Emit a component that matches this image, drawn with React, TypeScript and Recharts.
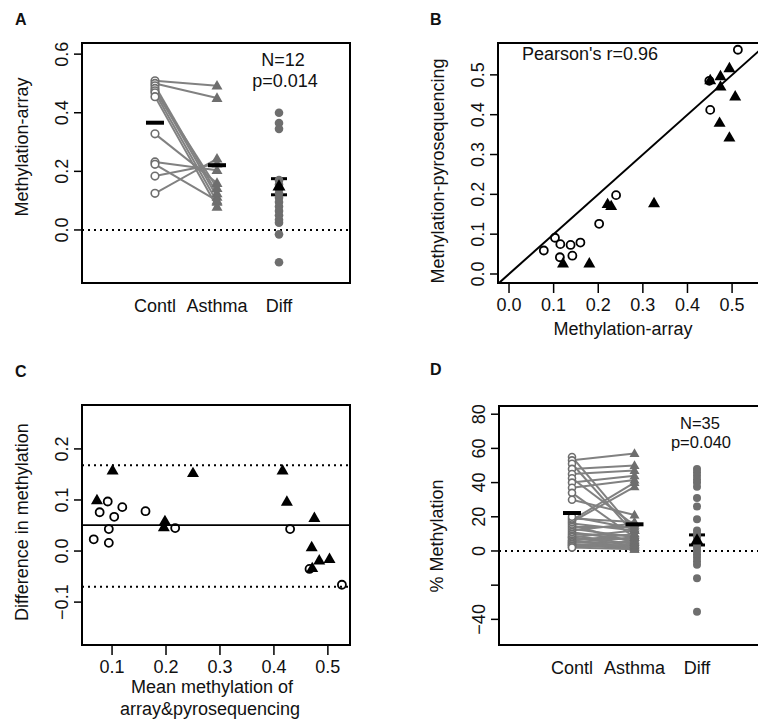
import React from 'react';
import { ScatterChart, Scatter, XAxis, YAxis, ReferenceLine, ReferenceArea, ErrorBar } from 'recharts';

const FONT = '"Liberation Sans", Arial, Helvetica, sans-serif';
const GRAY = '#6e6e6e';
const LGRAY = '#818181';
const INK = '#111';

const groupNames = ['Contl', 'Asthma', 'Diff'];

// A: methylation-array, 12 paired samples
const aContl = [0.509, 0.5, 0.492, 0.483, 0.475, 0.468, 0.455, 0.328, 0.232, 0.224, 0.184, 0.125];
const aAsthma = [0.492, 0.45, 0.125, 0.113, 0.143, 0.096, 0.079, 0.16, 0.204, 0.1, 0.226, 0.243];
const aDiff = [0.4, 0.365, 0.345, 0.17, 0.155, 0.14, 0.125, 0.11, 0.095, 0.08, 0.065, 0.05, 0.035, 0.025, -0.015, -0.11];
const aGroupMeans = [0.366, 0.221];
const aDiffMean = 0.15;
const aDiffCI = [0.12, 0.175];
const aTicks = [0, 0.2, 0.4, 0.6];

// B: array vs pyrosequencing
const bCircArray = [0.078, 0.103, 0.115, 0.114, 0.138, 0.142, 0.16, 0.202, 0.24, 0.451, 0.449, 0.513];
const bCircPyro = [0.059, 0.091, 0.075, 0.042, 0.073, 0.046, 0.079, 0.126, 0.198, 0.412, 0.485, 0.563];
const bTriArray = [0.121, 0.18, 0.221, 0.229, 0.325, 0.451, 0.474, 0.494, 0.474, 0.507, 0.472, 0.494];
const bTriPyro = [0.027, 0.027, 0.176, 0.171, 0.178, 0.487, 0.497, 0.517, 0.471, 0.446, 0.38, 0.343];
const bTicks = [0, 0.1, 0.2, 0.3, 0.4, 0.5];

// C: Bland-Altman
const cCircMean = [0.066, 0.077, 0.092, 0.094, 0.094, 0.104, 0.119, 0.162, 0.217, 0.43, 0.526, 0.466];
const cCircDiff = [0.023, 0.076, 0.097, 0.043, 0.016, 0.067, 0.086, 0.078, 0.045, 0.043, -0.066, -0.035];
const cTriMean = [0.072, 0.101, 0.198, 0.196, 0.25, 0.416, 0.424, 0.475, 0.47, 0.471, 0.484, 0.503];
const cTriDiff = [0.1, 0.158, 0.059, 0.047, 0.153, 0.158, 0.097, 0.065, 0.008, -0.033, -0.018, -0.015];
const cBias = 0.0507;
const cLimits = [0.168, -0.0697];
const cXTicks = [0.1, 0.2, 0.3, 0.4, 0.5];
const cYTicks = [-0.1, 0, 0.1, 0.2];

// D: % methylation, 35 paired samples
const dContl = [55, 53, 51, 48, 45, 42.5, 40, 37, 34, 30, 18, 17, 16, 15, 14, 13, 12, 11, 10, 9, 8, 8, 7, 6, 6, 5, 5, 4, 4, 3, 3, 2, 2, 19, 20];
const dAsthma = [12, 57, 10, 50, 47, 15, 44, 41.5, 8, 21, 40, 37.5, 12, 5, 14, 8, 16, 6, 9, 4, 12, 3, 7, 10, 2, 5, 8, 3, 1, 6, 2, 4, 1, 17, 13];
const dDiff = [48, 46, 44, 42, 40, 37.5, 31, 26, 18.5, 12, 10, 8, 6, 4, 2, 0, -2, -4, -6, -8, -16, -35.5];
const dGroupMeans = [22.2, 15.6];
const dDiffMean = 6.4;
const dDiffCI = [3.5, 9.4];
const dTicks = [-40, -20, 0, 20, 40, 60, 80];

const fmtNum = (v: number, d: number) => (v < 0 ? '\u2212' : '') + Math.abs(v).toFixed(d);

const circle = (r: number, stroke: string, fill: string, sw = 1.6) => (p: any) =>
  <circle cx={p.cx} cy={p.cy} r={r} fill={fill} stroke={stroke} strokeWidth={sw} />;
const tri = (w: number, fill: string) => (p: any) => {
  const h = w * 0.87;
  return <path d={`M${p.cx},${p.cy - h * 0.6}L${p.cx + w / 2},${p.cy + h * 0.4}L${p.cx - w / 2},${p.cy + h * 0.4}Z`} fill={fill} />;
};
const bar = (w: number, h: number) => (p: any) =>
  <rect x={p.cx - w / 2} y={p.cy - h / 2} width={w} height={h} fill="#000" />;
const none = () => <g />;

const yTick = (fmt: (v: number) => string) => (p: any) => {
  const txt = fmt(p.payload.value);
  const cx = p.x - 10;
  return (
    <text x={cx} y={p.y} dy="0.35em" transform={`rotate(-90 ${cx} ${p.y})`} textAnchor="middle"
      fontSize={18} fontFamily={FONT} fill={INK}>{txt}</text>
  );
};
const xNumTick = (p: any) => (
  <text x={p.x} y={p.y + 16} textAnchor="middle" fontSize={18} fontFamily={FONT} fill={INK}>
    {p.payload.value.toFixed(1)}
  </text>
);
const catTick = (p: any) => (
  <text x={p.x} y={p.y + 29} textAnchor="middle" fontSize={18} fontFamily={FONT} fill={INK}>
    {groupNames[p.payload.value - 1]}
  </text>
);

const tickLineStyle = { stroke: '#000', strokeWidth: 1.5 };

function PairedPanel(props: {
  contl: number[]; asthma: number[]; diff: number[]; means: number[]; diffMean: number; diffCI: number[];
  xDomain: number[]; yDomain: number[]; yTicks: number[]; fmt: (v: number) => string;
  width: number; height: number; top: number; right: number; yAxisWidth: number; xAxisHeight: number;
  r: number; triW: number;
}) {
  const { contl, asthma, diff, means, diffMean, diffCI, xDomain, yDomain } = props;
  const pairs = contl.map((c, i) => [{ x: 1, y: c }, { x: 2, y: asthma[i] }]);
  const contlPts = contl.map((y) => ({ x: 1, y }));
  const asthmaPts = asthma.map((y) => ({ x: 2, y }));
  const diffPts = diff.map((y) => ({ x: 3, y }));
  const meanPts = means.map((y, i) => ({ x: i + 1, y }));
  const diffMeanPts = [{ x: 3, y: diffMean, err: [diffMean - diffCI[0], diffCI[1] - diffMean] }];
  return (
    <ScatterChart width={props.width} height={props.height}
      margin={{ top: props.top, right: props.right, bottom: 0, left: 0 }}>
      <XAxis type="number" dataKey="x" domain={xDomain} ticks={[1, 2, 3]} interval={0} allowDataOverflow
        tickLine={false} axisLine={false} tickSize={0} tickMargin={0} height={props.xAxisHeight} tick={catTick} />
      <YAxis type="number" dataKey="y" domain={yDomain} ticks={props.yTicks} interval={0} allowDataOverflow
        axisLine={false} tickSize={8} tickMargin={2} tickLine={tickLineStyle} width={props.yAxisWidth}
        tick={yTick(props.fmt)} />
      <ReferenceLine y={0} stroke="#000" strokeWidth={2} strokeDasharray="2 4" />
      {pairs.map((d, i) => (
        <Scatter key={i} data={d} line={{ stroke: LGRAY, strokeWidth: 2 }} shape={none} isAnimationActive={false} />
      ))}
      <Scatter data={contlPts} shape={circle(props.r, GRAY, '#fff', 1.6)} isAnimationActive={false} />
      <Scatter data={asthmaPts} shape={tri(props.triW, GRAY)} isAnimationActive={false} />
      <Scatter data={diffPts} shape={circle(props.r + 0.5, GRAY, GRAY, 0)} isAnimationActive={false} />
      <Scatter data={meanPts} shape={bar(18, 4)} isAnimationActive={false} />
      <Scatter data={diffMeanPts} shape={tri(13, '#000')} isAnimationActive={false}>
        <ErrorBar dataKey="err" direction="y" width={8} stroke="#000" strokeWidth={3} />
      </Scatter>
      <ReferenceArea x1={xDomain[0]} x2={xDomain[1]} y1={yDomain[0]} y2={yDomain[1]}
        fill="none" stroke="#000" strokeWidth={2} ifOverflow="visible" />
    </ScatterChart>
  );
}

function PanelB() {
  const xd = [-0.0247, 0.585];
  const yd = [-0.0226, 0.58];
  const circ = bCircArray.map((x, i) => ({ x, y: bCircPyro[i] }));
  const tris = bTriArray.map((x, i) => ({ x, y: bTriPyro[i] }));
  return (
    <ScatterChart width={400} height={340} margin={{ top: 43, right: 10, bottom: 0, left: 0 }}>
      <XAxis type="number" dataKey="x" domain={xd} ticks={bTicks} interval={0} allowDataOverflow
        axisLine={false} tickSize={10} tickMargin={2} tickLine={tickLineStyle} height={57} tick={xNumTick} />
      <YAxis type="number" dataKey="y" domain={yd} ticks={bTicks} interval={0} allowDataOverflow
        axisLine={false} tickSize={8} tickMargin={2} tickLine={tickLineStyle} width={118}
        tick={yTick((v) => v.toFixed(1))} />
      <ReferenceLine segment={[{ x: -0.0226, y: -0.0226 }, { x: 0.58, y: 0.58 }]} stroke="#000" strokeWidth={2}
        ifOverflow="visible" />
      <Scatter data={circ} shape={circle(4, '#000', 'none', 1.8)} isAnimationActive={false} />
      <Scatter data={tris} shape={tri(12, '#000')} isAnimationActive={false} />
      <ReferenceArea x1={xd[0]} x2={xd[1]} y1={yd[0]} y2={yd[1]} fill="none" stroke="#000" strokeWidth={2}
        ifOverflow="visible" />
    </ScatterChart>
  );
}

function PanelC() {
  const xd = [0.0443, 0.541];
  const yd = [-0.184, 0.286];
  const circ = cCircMean.map((x, i) => ({ x, y: cCircDiff[i] }));
  const tris = cTriMean.map((x, i) => ({ x, y: cTriDiff[i] }));
  return (
    <ScatterChart width={380} height={380} margin={{ top: 65, right: 30, bottom: 0, left: 0 }}>
      <XAxis type="number" dataKey="x" domain={xd} ticks={cXTicks} interval={0} allowDataOverflow
        axisLine={false} tickSize={10} tickMargin={2} tickLine={tickLineStyle} height={75} tick={xNumTick} />
      <YAxis type="number" dataKey="y" domain={yd} ticks={cYTicks} interval={0} allowDataOverflow
        axisLine={false} tickSize={8} tickMargin={2} tickLine={tickLineStyle} width={82}
        tick={yTick((v) => fmtNum(v, 1))} />
      <ReferenceLine y={cBias} stroke="#000" strokeWidth={1.6} />
      {cLimits.map((y) => (
        <ReferenceLine key={y} y={y} stroke="#000" strokeWidth={2} strokeDasharray="2 4" />
      ))}
      <Scatter data={circ} shape={circle(4, '#000', 'none', 1.8)} isAnimationActive={false} />
      <Scatter data={tris} shape={tri(12, '#000')} isAnimationActive={false} />
      <ReferenceArea x1={xd[0]} x2={xd[1]} y1={yd[0]} y2={yd[1]} fill="none" stroke="#000" strokeWidth={2}
        ifOverflow="visible" />
    </ScatterChart>
  );
}

const txt = { fontFamily: FONT, fill: INK } as const;

export default function App() {
  return (
    <div style={{ position: 'absolute', left: 0, top: 0, width: 758, height: 720, overflow: 'hidden', background: '#fff' }}>
      <div style={{ position: 'absolute', left: 0, top: 0 }}>
        <PairedPanel contl={aContl} asthma={aAsthma} diff={aDiff} means={aGroupMeans} diffMean={aDiffMean}
          diffCI={aDiffCI} xDomain={[-0.177, 4.145]} yDomain={[-0.181, 0.638]} yTicks={aTicks}
          fmt={(v) => v.toFixed(1)} width={380} height={340} top={43} right={30} yAxisWidth={82}
          xAxisHeight={57} r={3.8} triW={11} />
      </div>
      <div style={{ position: 'absolute', left: 380, top: 0 }}>
        <PanelB />
      </div>
      <div style={{ position: 'absolute', left: 0, top: 340 }}>
        <PanelC />
      </div>
      <div style={{ position: 'absolute', left: 380, top: 340 }}>
        <PairedPanel contl={dContl} asthma={dAsthma} diff={dDiff} means={dGroupMeans} diffMean={dDiffMean}
          diffCI={dDiffCI} xDomain={[-0.168, 5.128]} yDomain={[-55, 84.8]} yTicks={dTicks}
          fmt={(v) => (v === -20 ? '' : fmtNum(v, 0))} width={470} height={380} top={66} right={20}
          yAxisWidth={119} xAxisHeight={75} r={3.5} triW={10} />
      </div>
      <svg width={758} height={720} style={{ position: 'absolute', left: 0, top: 0, pointerEvents: 'none' }}>
        <g fontWeight="bold" fontSize={16} {...txt}>
          <text x={15} y={25}>A</text>
          <text x={430} y={25}>B</text>
          <text x={15} y={377}>C</text>
          <text x={430} y={375}>D</text>
        </g>
        <g fontSize={18} {...txt} textAnchor="middle">
          <text x={28} y={147} transform="rotate(-90 28 147)">Methylation-array</text>
          <text x={444} y={171} transform="rotate(-90 444 171)">Methylation-pyrosequencing</text>
          <text x={28} y={522} transform="rotate(-90 28 522)">Difference in methylation</text>
          <text x={443} y={536} transform="rotate(-90 443 536)">% Methylation</text>
          <text x={623} y={335}>Methylation-array</text>
          <text x={212} y={693}>Mean methylation of</text>
          <text x={210} y={715}>array&amp;pyrosequencing</text>
          <text x={283} y={66}>N=12</text>
          <text x={285} y={87}>p=0.014</text>
          <text x={700} y={429} fontSize={16.5}>N=35</text>
          <text x={701} y={448} fontSize={16.5}>p=0.040</text>
        </g>
        <text x={522} y={60} fontSize={18} {...txt}>Pearson's r=0.96</text>
      </svg>
    </div>
  );
}
